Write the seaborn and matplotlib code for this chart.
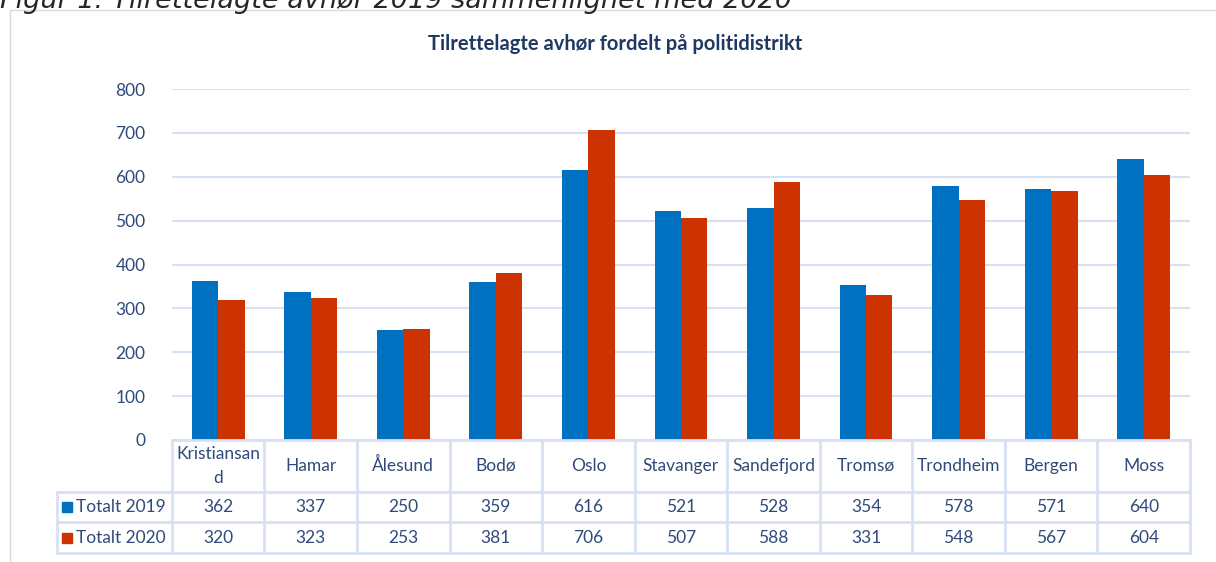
import matplotlib
matplotlib.use('Agg')
import matplotlib.pyplot as plt
import matplotlib.transforms as mtransforms
from matplotlib.patches import Rectangle
import pandas as pd
import seaborn as sns

# Data
districts = ['Kristiansand', 'Hamar', 'Ålesund', 'Bodø', 'Oslo', 'Stavanger',
             'Sandefjord', 'Tromsø', 'Trondheim', 'Bergen', 'Moss']
header_labels = ['Kristiansan\nd', 'Hamar', 'Ålesund', 'Bodø', 'Oslo', 'Stavanger',
                 'Sandefjord', 'Tromsø', 'Trondheim', 'Bergen', 'Moss']
series_names = ['Totalt 2019', 'Totalt 2020']
values_2019 = [362, 337, 250, 359, 616, 521, 528, 354, 578, 571, 640]
values_2020 = [320, 323, 253, 381, 706, 507, 588, 331, 548, 567, 604]
y_ticks = list(range(0, 900, 100))

colors = ['#0070C0', '#CC3300']
text_c = '#2F4A7A'
title_c = '#203864'
grid_c = '#D6E1F3'
fs = 12.5

df = pd.DataFrame({
    'district': districts * 2,
    'serie': [series_names[0]] * len(districts) + [series_names[1]] * len(districts),
    'antall': values_2019 + values_2020,
})

sns.set_style('white')
plt.rcParams['font.family'] = ['Lato', 'DejaVu Sans']

fig = plt.figure(figsize=(12.16, 5.62), dpi=100)
ax = fig.add_axes([0.1414, 0.2171, 0.8372, 0.6245])

sns.barplot(data=df, x='district', y='antall', hue='serie', palette=colors,
            width=0.57, gap=0, saturation=1, linewidth=0, legend=False, ax=ax)

ax.set_xlim(-0.5, len(districts) - 0.5)
ax.set_ylim(0, 800)
ax.set_yticks(y_ticks)
ax.set_xticks([])
ax.set_xlabel('')
ax.set_ylabel('')
for s in ax.spines.values():
    s.set_visible(False)
ax.set_axisbelow(True)
ax.yaxis.grid(True, color=grid_c, lw=1.5)
ax.tick_params(axis='y', length=0, pad=19, labelsize=fs, labelcolor=text_c)

# data table under the plot
trans = mtransforms.blended_transform_factory(ax.transData, ax.transAxes)
rows_y = [0, -0.148, -0.234, -0.322]
label_left = -0.113
line_kw = dict(color=grid_c, lw=2, clip_on=False)

for i in range(len(districts) + 1):
    ax.plot([i - 0.5, i - 0.5], [rows_y[0], rows_y[-1]], transform=trans, **line_kw)
ax.plot([-0.5, len(districts) - 0.5], [rows_y[0], rows_y[0]], transform=trans, **line_kw)
for y in rows_y[1:]:
    ax.plot([label_left, 1], [y, y], transform=ax.transAxes, **line_kw)
ax.plot([label_left, label_left], [rows_y[1], rows_y[-1]], transform=ax.transAxes, **line_kw)

head_y = (rows_y[0] + rows_y[1]) / 2
for i, lab in enumerate(header_labels):
    ax.text(i, head_y, lab, transform=trans, ha='center', va='center',
            fontsize=fs, color=text_c, linespacing=1.55)

for r, (name, vals) in enumerate(zip(series_names, [values_2019, values_2020])):
    yc = (rows_y[r + 1] + rows_y[r + 2]) / 2
    ax.add_patch(Rectangle((-0.108, yc - 0.0142), 0.0098, 0.0285, color=colors[r],
                           transform=ax.transAxes, clip_on=False))
    ax.text(-0.0943, yc, name, transform=ax.transAxes, ha='left', va='center',
            fontsize=fs, color=text_c)
    for i, v in enumerate(vals):
        ax.text(i, yc, str(v), transform=trans, ha='center', va='center',
                fontsize=fs, color=text_c)

# title, caption and chart frame
fig.text(0.506, 0.9217, 'Tilrettelagte avhør fordelt på politidistrikt', ha='center',
         va='center', fontsize=14.5, fontweight='bold', color=title_c)
fig.text(0.0, 0.9858, 'Figur 1: Tilrettelagte avhør 2019 sammenlignet med 2020',
         ha='left', va='baseline', fontsize=19.5, style='italic', color='#262626',
         family='DejaVu Sans')
fig.patches.append(Rectangle((10 / 1216, -0.1), 1.2, 1.1 - 10 / 562, fill=False,
                             edgecolor='#D9D9D9', lw=1, transform=fig.transFigure))

fig.savefig('out.png', dpi=100)
